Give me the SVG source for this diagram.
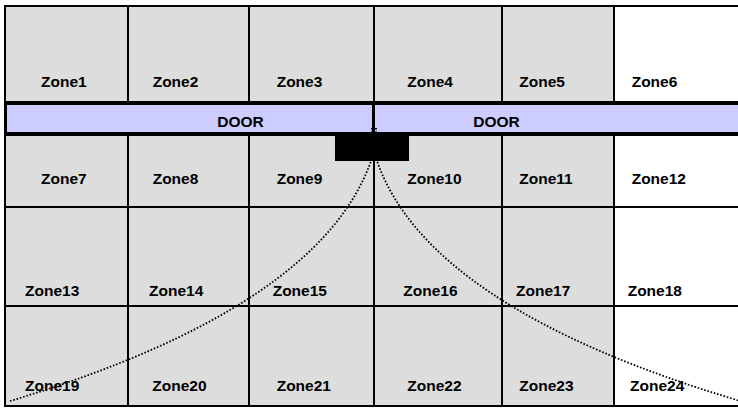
<svg xmlns="http://www.w3.org/2000/svg" width="738" height="410" viewBox="0 0 738 410">
<style>
  .cell { fill: #dddddd; stroke: #000; stroke-width: 2; }
  .cell.w { fill: #ffffff; }
  .door { fill: #ccccff; stroke: #000; stroke-width: 3; }
  .lbl { font-family: "Liberation Sans", Arial, sans-serif; font-weight: bold; font-size: 15.5px; fill: #000; }
  .fov { fill: none; stroke: #000; stroke-width: 1.8; stroke-dasharray: 1.6 1.8; }
</style>
<rect x="0" y="0" width="738" height="410" fill="#ffffff"/>
<g id="zones">
  <g id="zone1"><rect class="cell" x="5" y="6" width="123" height="96"/><text class="lbl" x="41" y="87">Zone1</text></g>
  <g id="zone2"><rect class="cell" x="128" y="6" width="121" height="96"/><text class="lbl" x="152.7" y="87">Zone2</text></g>
  <g id="zone3"><rect class="cell" x="249" y="6" width="125" height="96"/><text class="lbl" x="276.7" y="87">Zone3</text></g>
  <g id="zone4"><rect class="cell" x="374" y="6" width="128" height="96"/><text class="lbl" x="407.3" y="87">Zone4</text></g>
  <g id="zone5"><rect class="cell" x="502" y="6" width="112" height="96"/><text class="lbl" x="519.3" y="87">Zone5</text></g>
  <g id="zone6"><rect class="cell w" x="614" y="6" width="130" height="96"/><text class="lbl" x="631.7" y="87">Zone6</text></g>

  <g id="zone7"><rect class="cell" x="5" y="135" width="123" height="72"/><text class="lbl" x="41" y="183.5">Zone7</text></g>
  <g id="zone8"><rect class="cell" x="128" y="135" width="121" height="72"/><text class="lbl" x="152.7" y="183.5">Zone8</text></g>
  <g id="zone9"><rect class="cell" x="249" y="135" width="125" height="72"/><text class="lbl" x="276.7" y="183.5">Zone9</text></g>
  <g id="zone10"><rect class="cell" x="374" y="135" width="128" height="72"/><text class="lbl" x="407.3" y="183.5">Zone10</text></g>
  <g id="zone11"><rect class="cell" x="502" y="135" width="112" height="72"/><text class="lbl" x="519.3" y="183.5">Zone11</text></g>
  <g id="zone12"><rect class="cell w" x="614" y="135" width="130" height="72"/><text class="lbl" x="631.7" y="183.5">Zone12</text></g>

  <g id="zone13"><rect class="cell" x="5" y="207" width="123" height="99"/><text class="lbl" x="25" y="295.7">Zone13</text></g>
  <g id="zone14"><rect class="cell" x="128" y="207" width="121" height="99"/><text class="lbl" x="149" y="295.7">Zone14</text></g>
  <g id="zone15"><rect class="cell" x="249" y="207" width="125" height="99"/><text class="lbl" x="272.7" y="295.7">Zone15</text></g>
  <g id="zone16"><rect class="cell" x="374" y="207" width="128" height="99"/><text class="lbl" x="403.3" y="295.7">Zone16</text></g>
  <g id="zone17"><rect class="cell" x="502" y="207" width="112" height="99"/><text class="lbl" x="516" y="295.7">Zone17</text></g>
  <g id="zone18"><rect class="cell w" x="614" y="207" width="130" height="99"/><text class="lbl" x="627.7" y="295.7">Zone18</text></g>

  <g id="zone19"><rect class="cell" x="5" y="306" width="123" height="100"/><text class="lbl" x="25" y="390.7">Zone19</text></g>
  <g id="zone20"><rect class="cell" x="128" y="306" width="121" height="100"/><text class="lbl" x="152.3" y="390.7">Zone20</text></g>
  <g id="zone21"><rect class="cell" x="249" y="306" width="125" height="100"/><text class="lbl" x="276.7" y="390.7">Zone21</text></g>
  <g id="zone22"><rect class="cell" x="374" y="306" width="128" height="100"/><text class="lbl" x="407.3" y="390.7">Zone22</text></g>
  <g id="zone23"><rect class="cell" x="502" y="306" width="112" height="100"/><text class="lbl" x="519.3" y="390.7">Zone23</text></g>
  <g id="zone24"><rect class="cell w" x="614" y="306" width="130" height="100"/><text class="lbl" x="630" y="390.7">Zone24</text></g>
</g>
<g id="door-left"><rect class="door" x="5.5" y="103.5" width="368" height="30"/><text class="lbl" x="217.3" y="127.3">DOOR</text></g>
<g id="door-right"><rect class="door" x="373.5" y="103.5" width="370" height="30"/><text class="lbl" x="473.3" y="127.3">DOOR</text></g>
<g id="connectors">
  <path class="fov" d="M372,128 L371,161 Q319,308 10,401"/>
  <path class="fov" d="M376,128 L377,161 Q428,308 740,401"/>
</g>
<g id="sensor"><rect x="335" y="134" width="74" height="27" fill="#000"/></g>
</svg>
